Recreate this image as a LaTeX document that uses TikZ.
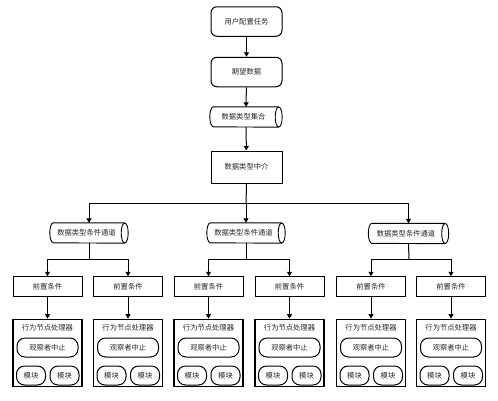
\documentclass[tikz,border=0pt]{standalone}
\usepackage{fontspec}
\setmainfont{Noto Sans CJK SC}
\usetikzlibrary{calc,arrows.meta}
\newcommand\mycyl[1]{%
  \draw[line width=0.9pt] ($(#1.north east)+(-3.5,0)$) -- ($(#1.north west)+(3.5,0)$)
    arc[start angle=270, end angle=90, x radius=3.5, y radius=10]
    -- ($(#1.south east)+(-3.5,0)$);
  \draw[line width=0.9pt] ($(#1.east)+(-3.5,0)$) ellipse [x radius=3.5, y radius=10];
}
\begin{document}
\begin{tikzpicture}[x=1pt,y=-1pt,
  every node/.style={font=\fontsize{7.3pt}{8pt}\selectfont, text=black!85, inner sep=0pt},
  rbox/.style={draw, line width=1pt, rounded corners=6pt, minimum width=71pt, minimum height=29.5pt},
  sqbox/.style={draw, line width=1pt, minimum width=71pt, minimum height=32pt},
  cyl/.style={minimum height=20pt},
  prebox/.style={draw, line width=1pt, minimum width=69pt, minimum height=19.5pt},
  procbox/.style={draw, line width=1.2pt, minimum width=69pt, minimum height=67.5pt},
  obsbox/.style={draw, line width=1pt, rounded corners=8pt, minimum width=61pt, minimum height=19pt},
  modbox/.style={draw, line width=1pt, rounded corners=8pt, minimum width=29pt, minimum height=19pt},
  arr/.style={-{Triangle[length=4.5pt,width=5pt]}, line width=1pt},
  ln/.style={line width=1pt}
]
\useasboundingbox (0,0) rectangle (498,400);

\node[rbox] (t1) at (246.5,21.5) {用户配置任务};
\node[rbox] (t2) at (246.5,72) {期望数据};
\node[cyl, minimum width=72pt] (t3) at (246,117) {\hspace{-5pt}数据类型集合};
\node[sqbox] (t4) at (246.5,167) {数据类型中介};
\mycyl{t3}

\draw[arr] (t1) -- (t2);
\draw[arr] (t2) -- (t3);
\draw[arr] (t3) -- (t4);

\node[cyl, minimum width=78pt] (c1) at (89,233) {\hspace{-5pt}数据类型条件通道};
\node[cyl, minimum width=78pt] (c2) at (246,233) {\hspace{-5pt}数据类型条件通道};
\node[cyl, minimum width=80pt] (c3) at (408.5,233.5) {\hspace{-5pt}数据类型条件通道};
\mycyl{c1}
\mycyl{c2}
\mycyl{c3}

\coordinate (j) at (246,203);
\draw[ln] (t4.south) -- (j);
\draw[arr] (j) -| (c1.north);
\draw[arr] (j) -- (c2.north);
\draw[arr] (j) -| (c3.north);

\foreach \cx/\n in {47.5/a,128/b,208.5/c,289.5/d,371/e,451/f}{
  \node[prebox] (pre-\n) at (\cx,286.5) {前置条件};
  \node[procbox] (proc-\n) at (\cx,353) {};
  \node (tit-\n) at (\cx,327.5) {行为节点处理器};
  \node[obsbox] (obs-\n) at (\cx,347.5) {观察者中止};
  \node[modbox] (mA-\n) at (\cx-16.5,375.5) {模块};
  \node[modbox] (mB-\n) at (\cx+17,375.5) {模块};
  \draw[arr] (pre-\n) -- (proc-\n);
}

\coordinate (b1) at (89,259);
\coordinate (b2) at (246,259);
\coordinate (b3) at (409,259);
\draw[ln] (c1.south) -- (b1);
\draw[ln] (c2.south) -- (b2);
\draw[ln] (c3.south) -- (b3);
\draw[arr] (b1) -| (pre-a.north);
\draw[arr] (b1) -| (pre-b.north);
\draw[arr] (b2) -| (pre-c.north);
\draw[arr] (b2) -| (pre-d.north);
\draw[arr] (b3) -| (pre-e.north);
\draw[arr] (b3) -| (pre-f.north);
\end{tikzpicture}
\end{document}
